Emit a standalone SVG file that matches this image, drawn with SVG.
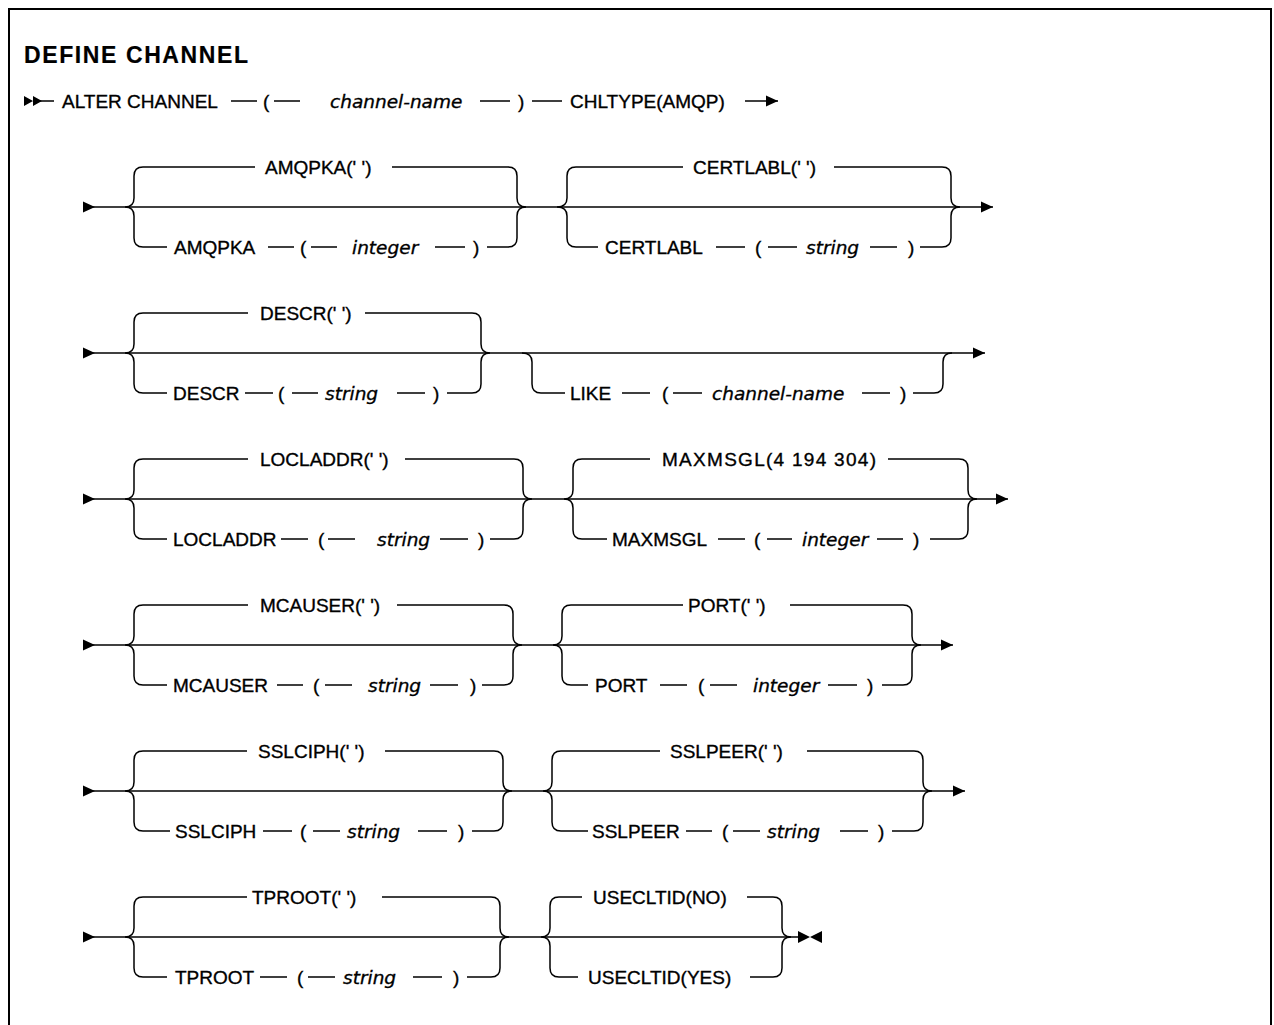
<svg xmlns="http://www.w3.org/2000/svg" width="1274" height="1025" viewBox="0 0 1274 1025">
<defs>
<style>
text{font-family:"Liberation Sans",Arial,sans-serif;font-size:19px;fill:#000;stroke:#000;stroke-width:0.35}
.v{font-family:"DejaVu Sans","Liberation Sans",sans-serif;font-style:italic;font-size:18.5px}
.title{font-weight:bold;font-size:23px;letter-spacing:1.6px;stroke-width:0.2}
.ln{fill:none;stroke:#000;stroke-width:1.5}
.tri{fill:#000;stroke:none}
</style>
<marker id="aS" markerUnits="userSpaceOnUse" markerWidth="12" markerHeight="12" refX="0" refY="6" orient="auto"><path d="M0,0.5 L12,6 L0,11.5 Z" fill="#000"/></marker>
<marker id="aE" markerUnits="userSpaceOnUse" markerWidth="12" markerHeight="12" refX="12" refY="6" orient="auto"><path d="M0,0.5 L12,6 L0,11.5 Z" fill="#000"/></marker>
</defs>
<rect x="9" y="9" width="1262" height="1040" fill="#fff" stroke="#000" stroke-width="2"/>
<text class="title" x="24" y="63">DEFINE CHANNEL</text>

<g id="connectors">
<!-- row 0 -->
<path class="tri" d="M24,96 L33,101 L24,106 Z M33,96 L42,101 L33,106 Z"/>
<path class="ln" d="M40,101 H54 M231,101 H257 M274,101 H300 M480,101 H510 M532,101 H562"/>
<path class="ln" d="M745,101 H778" marker-end="url(#aE)"/>
<!-- row 1 -->
<path class="ln" d="M83,207 H993" marker-start="url(#aS)" marker-end="url(#aE)"/>
<path class="ln" d="M125,207 Q134,207 134,198 V176 Q134,167 143,167 H255 M125,207 Q134,207 134,216 V238 Q134,247 143,247 H167 M392,167 H508 Q517,167 517,176 V198 Q517,207 526,207 M487,247 H508 Q517,247 517,238 V216 Q517,207 526,207 M268,247 H294 M311,247 H337 M435,247 H465"/>
<path class="ln" d="M557,207 Q567,207 567,198 V176 Q567,167 576,167 H683 M557,207 Q567,207 567,216 V238 Q567,247 576,247 H598 M834,167 H942 Q951,167 951,176 V198 Q951,207 960,207 M920,247 H942 Q951,247 951,238 V216 Q951,207 960,207 M716,247 H745 M768,247 H797 M870,247 H897"/>
<!-- row 2 -->
<path class="ln" d="M83,353 H985" marker-start="url(#aS)" marker-end="url(#aE)"/>
<path class="ln" d="M125,353 Q134,353 134,344 V322 Q134,313 143,313 H248 M125,353 Q134,353 134,362 V384 Q134,393 143,393 H167 M365,313 H472 Q481,313 481,322 V344 Q481,353 490,353 M447,393 H472 Q481,393 481,384 V362 Q481,353 490,353 M245,393 H273 M292,393 H318 M397,393 H425"/>
<path class="ln" d="M522,353 Q532,353 532,362 V384 Q532,393 541,393 H565 M913,393 H934 Q943,393 943,384 V362 Q943,353 952,353 M622,393 H650 M673,393 H702 M862,393 H890"/>
<!-- row 3 -->
<path class="ln" d="M83,499 H1008" marker-start="url(#aS)" marker-end="url(#aE)"/>
<path class="ln" d="M125,499 Q134,499 134,490 V468 Q134,459 143,459 H248 M125,499 Q134,499 134,508 V530 Q134,539 143,539 H167 M405,459 H514 Q523,459 523,468 V490 Q523,499 532,499 M490,539 H514 Q523,539 523,530 V508 Q523,499 532,499 M281,539 H308 M328,539 H355 M440,539 H468"/>
<path class="ln" d="M564,499 Q573,499 573,490 V468 Q573,459 582,459 H650 M564,499 Q573,499 573,508 V530 Q573,539 582,539 H607 M888,459 H959 Q968,459 968,468 V490 Q968,499 977,499 M930,539 H959 Q968,539 968,530 V508 Q968,499 977,499 M718,539 H745 M767,539 H792 M877,539 H903"/>
<!-- row 4 -->
<path class="ln" d="M83,645 H953" marker-start="url(#aS)" marker-end="url(#aE)"/>
<path class="ln" d="M125,645 Q134,645 134,636 V614 Q134,605 143,605 H248 M125,645 Q134,645 134,654 V676 Q134,685 143,685 H167 M397,605 H504 Q513,605 513,614 V636 Q513,645 522,645 M482,685 H504 Q513,685 513,676 V654 Q513,645 522,645 M277,685 H303 M325,685 H352 M430,685 H458"/>
<path class="ln" d="M553,645 Q562,645 562,636 V614 Q562,605 571,605 H683 M553,645 Q562,645 562,654 V676 Q562,685 571,685 H588 M790,605 H903 Q912,605 912,614 V636 Q912,645 921,645 M882,685 H903 Q912,685 912,676 V654 Q912,645 921,645 M660,685 H687 M710,685 H737 M828,685 H857"/>
<!-- row 5 -->
<path class="ln" d="M83,791 H965" marker-start="url(#aS)" marker-end="url(#aE)"/>
<path class="ln" d="M125,791 Q134,791 134,782 V760 Q134,751 143,751 H247 M125,791 Q134,791 134,800 V822 Q134,831 143,831 H170 M385,751 H494 Q503,751 503,760 V782 Q503,791 512,791 M472,831 H494 Q503,831 503,822 V800 Q503,791 512,791 M263,831 H292 M313,831 H340 M418,831 H447"/>
<path class="ln" d="M543,791 Q552,791 552,782 V760 Q552,751 561,751 H660 M543,791 Q552,791 552,800 V822 Q552,831 561,831 H588 M807,751 H914 Q923,751 923,760 V782 Q923,791 932,791 M892,831 H914 Q923,831 923,822 V800 Q923,791 932,791 M686,831 H712 M733,831 H760 M840,831 H868"/>
<!-- row 6 -->
<path class="ln" d="M83,937 H800" marker-start="url(#aS)"/>
<path class="ln" d="M125,937 Q134,937 134,928 V906 Q134,897 143,897 H247 M125,937 Q134,937 134,946 V968 Q134,977 143,977 H167 M382,897 H491 Q500,897 500,906 V928 Q500,937 509,937 M467,977 H491 Q500,977 500,968 V946 Q500,937 509,937 M260,977 H287 M308,977 H335 M413,977 H442"/>
<path class="ln" d="M541,937 Q550,937 550,928 V906 Q550,897 559,897 H582 M541,937 Q550,937 550,946 V968 Q550,977 559,977 H578 M747,897 H773 Q782,897 782,906 V928 Q782,937 791,937 M750,977 H773 Q782,977 782,968 V946 Q782,937 791,937"/>
<path class="tri" d="M798,931 L810,937 L798,943 Z M822,931 L810,937 L822,943 Z"/>
</g>

<g id="alter-channel">
<text x="62" y="108">ALTER CHANNEL</text>
<text x="263" y="108">(</text>
<text class="v" x="330" y="108">channel-name</text>
<text x="518" y="108">)</text>
<text x="570" y="108">CHLTYPE(AMQP)</text>
</g>
<g id="amqpka">
<text x="265" y="174">AMQPKA(' ')</text>
<text x="174" y="254">AMQPKA</text>
<text x="300" y="254">(</text>
<text class="v" x="352" y="254">integer</text>
<text x="473" y="254">)</text>
</g>
<g id="certlabl">
<text x="693" y="174">CERTLABL(' ')</text>
<text x="605" y="254">CERTLABL</text>
<text x="755" y="254">(</text>
<text class="v" x="806" y="254">string</text>
<text x="908" y="254">)</text>
</g>
<g id="descr">
<text x="260" y="320">DESCR(' ')</text>
<text x="173" y="400">DESCR</text>
<text x="278" y="400">(</text>
<text class="v" x="325" y="400">string</text>
<text x="433" y="400">)</text>
</g>
<g id="like">
<text x="570" y="400">LIKE</text>
<text x="662" y="400">(</text>
<text class="v" x="712" y="400">channel-name</text>
<text x="900" y="400">)</text>
</g>
<g id="locladdr">
<text x="260" y="466">LOCLADDR(' ')</text>
<text x="173" y="546">LOCLADDR</text>
<text x="318" y="546">(</text>
<text class="v" x="377" y="546">string</text>
<text x="478" y="546">)</text>
</g>
<g id="maxmsgl">
<text x="662" y="466" textLength="214" lengthAdjust="spacing">MAXMSGL(4 194 304)</text>
<text x="612" y="546">MAXMSGL</text>
<text x="754" y="546">(</text>
<text class="v" x="802" y="546">integer</text>
<text x="913" y="546">)</text>
</g>
<g id="mcauser">
<text x="260" y="612">MCAUSER(' ')</text>
<text x="173" y="692">MCAUSER</text>
<text x="313" y="692">(</text>
<text class="v" x="368" y="692">string</text>
<text x="470" y="692">)</text>
</g>
<g id="port">
<text x="688" y="612">PORT(' ')</text>
<text x="595" y="692">PORT</text>
<text x="698" y="692">(</text>
<text class="v" x="753" y="692">integer</text>
<text x="867" y="692">)</text>
</g>
<g id="sslciph">
<text x="258" y="758">SSLCIPH(' ')</text>
<text x="175" y="838">SSLCIPH</text>
<text x="300" y="838">(</text>
<text class="v" x="347" y="838">string</text>
<text x="458" y="838">)</text>
</g>
<g id="sslpeer">
<text x="670" y="758">SSLPEER(' ')</text>
<text x="592" y="838">SSLPEER</text>
<text x="722" y="838">(</text>
<text class="v" x="767" y="838">string</text>
<text x="878" y="838">)</text>
</g>
<g id="tproot">
<text x="252" y="904">TPROOT(' ')</text>
<text x="175" y="984">TPROOT</text>
<text x="297" y="984">(</text>
<text class="v" x="343" y="984">string</text>
<text x="453" y="984">)</text>
</g>
<g id="usecltid">
<text x="593" y="904">USECLTID(NO)</text>
<text x="588" y="984">USECLTID(YES)</text>
</g>
</svg>
